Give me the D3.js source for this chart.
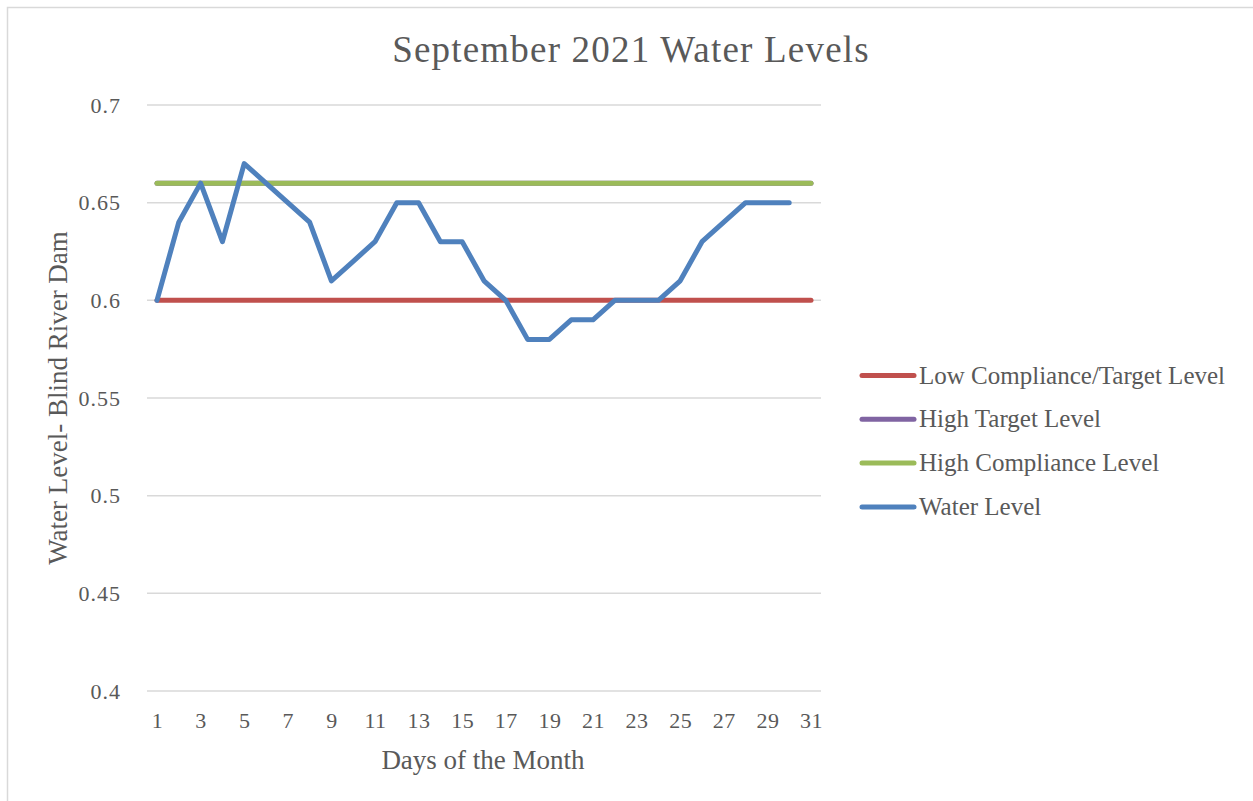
<!DOCTYPE html>
<html>
<head>
<meta charset="utf-8">
<script src="https://cdn.jsdelivr.net/npm/d3@7"></script>
<style>
  body { margin: 0; background: #fff; }
  svg { display: block; }
  text { font-family: "Liberation Serif", "DejaVu Serif", serif; fill: #595959; }
</style>
</head>
<body>
<div id="chart"></div>
<script>
// data
let days = d3.range(1, 32);
let dayTicks = [1, 3, 5, 7, 9, 11, 13, 15, 17, 19, 21, 23, 25, 27, 29, 31];
let yTicks = [0.4, 0.45, 0.5, 0.55, 0.6, 0.65, 0.7];
let lowTarget = days.map(() => 0.6);
let highTarget = days.map(() => 0.66);
let highCompliance = days.map(() => 0.66);
let waterLevel = [0.60, 0.64, 0.66, 0.63, 0.67, 0.66, 0.65, 0.64, 0.61, 0.62,
                  0.63, 0.65, 0.65, 0.63, 0.63, 0.61, 0.60, 0.58, 0.58, 0.59,
                  0.59, 0.60, 0.60, 0.60, 0.61, 0.63, 0.64, 0.65, 0.65, 0.65];

let series = [
  { name: 'Low Compliance/Target Level', values: lowTarget, color: '#c0504d' },
  { name: 'High Target Level', values: highTarget, color: '#8064a2' },
  { name: 'High Compliance Level', values: highCompliance, color: '#9bbb59' },
  { name: 'Water Level', values: waterLevel, color: '#4f81bd' }
];

let width = 1253, height = 801;

let svg = d3.select('#chart').append('svg')
  .attr('width', width)
  .attr('height', height);

// outer frame (only top/left visible)
svg.append('rect')
  .attr('x', 7.5).attr('y', 7.5)
  .attr('width', width + 10).attr('height', height + 10)
  .attr('fill', '#fff')
  .attr('stroke', '#d9d9d9')
  .attr('stroke-width', 1.5);

let xScale = d3.scaleLinear()
  .domain([1, 31])
  .range([157, 811]);

let yScale = d3.scaleLinear()
  .domain([0.4, 0.7])
  .range([691, 105]);

// gridlines
svg.append('g')
  .selectAll('line')
  .data(yTicks)
  .enter().append('line')
  .attr('x1', 147).attr('x2', 821)
  .attr('y1', d => yScale(d)).attr('y2', d => yScale(d))
  .attr('stroke', '#d9d9d9')
  .attr('stroke-width', 1.5);

// y axis
let yAxis = d3.axisLeft(yScale).tickValues(yTicks).tickSize(0).tickPadding(26)
  .tickFormat(d => d3.format('')(+d.toFixed(2)));
let gy = svg.append('g')
  .attr('transform', 'translate(147,0)')
  .call(yAxis);
gy.select('.domain').remove();
gy.selectAll('text').style('font-size', '22px').attr('fill', '#595959')
  .style('letter-spacing', '1px')
  .style('font-family', '"Liberation Serif", serif');

// x axis
let xAxis = d3.axisBottom(xScale).tickValues(dayTicks).tickSize(0).tickPadding(21);
let gx = svg.append('g')
  .attr('transform', 'translate(0,691)')
  .call(xAxis);
gx.select('.domain').remove();
gx.selectAll('text').style('font-size', '22px').attr('fill', '#595959')
  .style('letter-spacing', '0.5px')
  .style('font-family', '"Liberation Serif", serif');

// lines
let line = d3.line()
  .x((d, i) => xScale(days[i]))
  .y(d => yScale(d));

svg.append('g')
  .selectAll('path')
  .data(series)
  .enter().append('path')
  .attr('d', d => line(d.values))
  .attr('fill', 'none')
  .attr('stroke', d => d.color)
  .attr('stroke-width', 5)
  .attr('stroke-linejoin', 'round')
  .attr('stroke-linecap', 'round');

// title
svg.append('text')
  .attr('x', 631).attr('y', 62)
  .attr('text-anchor', 'middle')
  .style('font-size', '37px')
  .style('letter-spacing', '1.2px')
  .text('September 2021 Water Levels');

// axis titles
svg.append('text')
  .attr('transform', 'translate(67,398) rotate(-90)')
  .attr('text-anchor', 'middle')
  .style('font-size', '27px')
  .text('Water Level- Blind River Dam');

svg.append('text')
  .attr('x', 483).attr('y', 769)
  .attr('text-anchor', 'middle')
  .style('font-size', '27px')
  .text('Days of the Month');

// legend
let legend = svg.append('g')
  .selectAll('g')
  .data(series)
  .enter().append('g')
  .attr('transform', (d, i) => `translate(862, ${375.5 + i * 43.8})`);

legend.append('line')
  .attr('x1', 0).attr('x2', 52)
  .attr('stroke', d => d.color)
  .attr('stroke-width', 5)
  .attr('stroke-linecap', 'round');

legend.append('text')
  .attr('x', 57).attr('y', 8)
  .style('font-size', '25px')
  .text(d => d.name);
</script>
</body>
</html>
